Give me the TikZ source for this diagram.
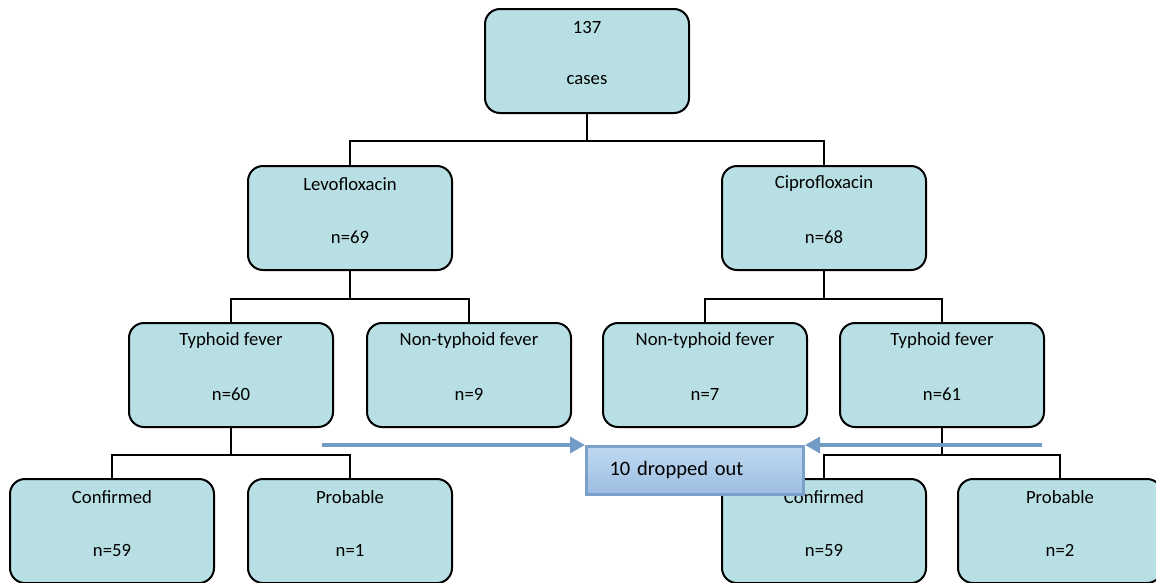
\documentclass[tikz,border=0pt]{standalone}
\usepackage{fontspec}
\setmainfont{Carlito}
\usetikzlibrary{arrows.meta}
\definecolor{boxfill}{HTML}{B8DFE3}
\definecolor{arrowblue}{HTML}{729CC6}
\definecolor{droptop}{HTML}{BFD8F0}
\definecolor{dropbot}{HTML}{9CBEE2}
\definecolor{dropedge}{HTML}{7BA1CB}
\tikzset{
  casebox/.style={draw=black, line width=2pt, fill=boxfill, rounded corners=15pt,
    minimum width=204pt, minimum height=104pt, inner sep=0pt, anchor=north},
  lbl/.style={font=\fontsize{18.7}{20}\selectfont, inner sep=0pt},
  conn/.style={draw=black, line width=2pt},
  dropbox/.style={draw=dropedge, line width=3pt, top color=droptop, bottom color=dropbot,
    minimum width=217pt, minimum height=48pt, text width=171pt, align=left, inner xsep=23pt,
    font=\fontsize{20.5}{22}\selectfont},
  droparrow/.style={draw=arrowblue, line width=3.4pt, -{Triangle[length=15pt,width=16pt]}}
}
\begin{document}
\begin{tikzpicture}[x=1pt,y=-1pt]
\useasboundingbox (0,0) rectangle (1156,582);
% boxes
\node[casebox] (root) at (587,8) {};
\node[casebox] (levo) at (350,165) {};
\node[casebox] (cipro) at (824,165) {};
\node[casebox] (typL) at (231,322) {};
\node[casebox] (nonL) at (469,322) {};
\node[casebox] (nonR) at (705,322) {};
\node[casebox] (typR) at (942,322) {};
\node[casebox] (confL) at (112,478) {};
\node[casebox] (probL) at (350,478) {};
\node[casebox] (confR) at (824,478) {};
\node[casebox] (probR) at (1060,478) {};
% labels
\foreach \n/\a/\b in {root/137/cases, levo/Levofloxacin/n=69, cipro/Ciprofloxacin/n=68,
  typL/Typhoid fever/n=60, nonL/Non-typhoid fever/n=9, nonR/Non-typhoid fever/n=7,
  typR/Typhoid fever/n=61, confL/Confirmed/n=59, probL/Probable/n=1,
  confR/Confirmed/n=59, probR/Probable/n=2}{
  \node[lbl] (\n-t) at ([yshift=-19pt]\n.north) {\a};
  \node[lbl] (\n-b) at ([yshift=-72pt]\n.north) {\b};
}
% connectors
\draw[conn] (root.south) -- ++(0,27) -| (levo.north);
\draw[conn] (root.south) -- ++(0,27) -| (cipro.north);
\draw[conn] (levo.south) -- ++(0,28) -| (typL.north);
\draw[conn] (levo.south) -- ++(0,28) -| (nonL.north);
\draw[conn] (cipro.south) -- ++(0,28) -| (nonR.north);
\draw[conn] (cipro.south) -- ++(0,28) -| (typR.north);
\draw[conn] (typL.south) -- ++(0,27) -| (confL.north);
\draw[conn] (typL.south) -- ++(0,27) -| (probL.north);
\draw[conn] (typR.south) -- ++(0,27) -| (confR.north);
\draw[conn] (typR.south) -- ++(0,27) -| (probR.north);
% dropped out
\node[dropbox, anchor=north west] (drop) at (585,445) {10 dropped out};
\coordinate (aL) at (322,445);
\coordinate (aR) at (1042,445);
\draw[droparrow] (aL) -- (drop.north west);
\draw[droparrow] (aR) -- (drop.north east);
\end{tikzpicture}
\end{document}
